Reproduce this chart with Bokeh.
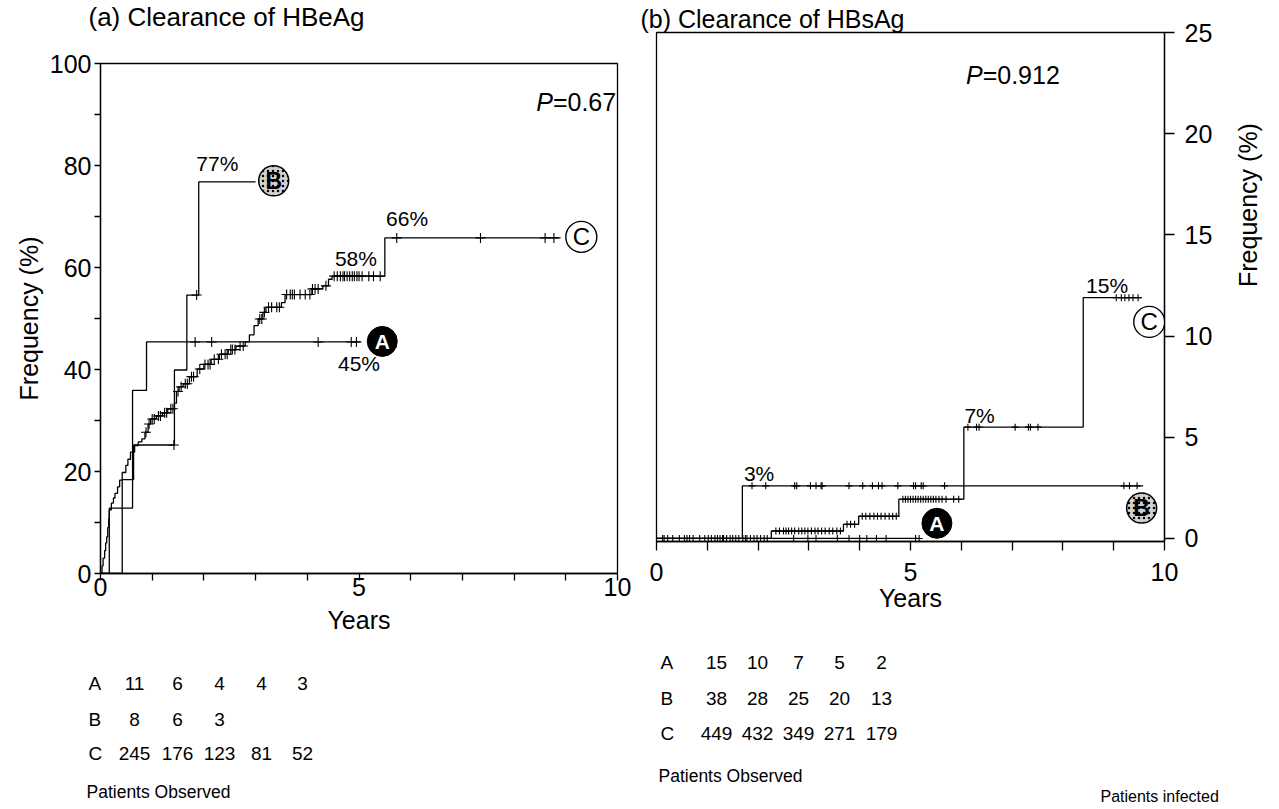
import numpy as np
from bokeh.plotting import figure
from bokeh.models import Range1d, FixedTicker
from bokeh.layouts import column, row
from bokeh.embed import file_html
from bokeh.resources import INLINE
from bokeh.core.properties import value

FONT = "Liberation Sans"

# ---------------- panel (a): Clearance of HBeAg ----------------
a_years_A = [0, 0.17, 0.62, 0.89]
a_freq_A = [0, 12.8, 35.9, 45.4]
a_end_A = 5.03
a_cens_A = [1.83, 2.15, 4.21, 4.85, 4.95]

a_years_B = [0, 0.42, 0.64, 1.43, 1.67, 1.90]
a_freq_B = [0, 18.4, 25.2, 39.9, 54.6, 76.8]
a_end_B = 3.0
a_cens_B = [1.42, 1.86]

a_years_C = [0, 0.03, 0.05, 0.08, 0.10, 0.12, 0.14, 0.16, 0.17, 0.21, 0.25, 0.28, 0.33,
             0.37, 0.42, 0.49, 0.53, 0.58, 0.66, 0.73, 0.80, 0.86, 0.92, 0.97, 1.08, 1.20,
             1.30, 1.43, 1.47, 1.52, 1.60, 1.72, 1.87, 2.00, 2.14, 2.30, 2.47, 2.62, 2.80,
             2.88, 2.97, 3.05, 3.14, 3.20, 3.50, 3.57, 4.09, 4.30, 4.41, 4.48, 5.50]
a_freq_C = [0, 1.5, 3.0, 4.5, 6.0, 7.2, 9.0, 10.8, 12.5, 13.8, 14.8, 15.7, 17.0,
            18.3, 19.8, 21.2, 22.4, 23.8, 25.1, 25.8, 26.4, 27.7, 29.3, 30.3, 30.9, 31.5,
            32.3, 33.4, 35.7, 36.6, 37.2, 38.6, 40.1, 41.0, 42.0, 43.0, 43.9, 44.6, 45.4,
            46.8, 48.6, 49.9, 51.2, 52.2, 53.1, 54.7, 55.8, 56.4, 57.7, 58.3, 65.8]
a_end_C = 8.9
a_cens_C = [0.88, 0.94, 1.0, 1.04, 1.12, 1.16, 1.24, 1.28, 1.36, 1.4, 1.5, 1.56, 1.64,
            1.68, 1.76, 1.8, 1.92, 2.02, 2.08, 2.12, 2.2, 2.28, 2.34, 2.41, 2.45, 2.52,
            2.55, 2.6, 2.7, 2.76, 3.08, 3.12, 3.17, 3.25, 3.31, 3.41, 3.46, 3.6, 3.67,
            3.71, 3.75, 3.86, 3.96, 4.05, 4.1, 4.15, 4.21, 4.36, 4.52, 4.58, 4.64, 4.69,
            4.72, 4.77, 4.82, 4.87, 4.91, 4.96, 5.0, 5.06, 5.19, 5.28, 5.41, 5.73, 7.35,
            8.6, 8.77]

a_mark_x = [5.45, 3.35, 9.3]
a_mark_y = [45.5, 77.0, 66.0]
a_lab_txt = ["77%", "66%", "58%", "45%"]
a_lab_x = [2.26, 5.93, 4.94, 5.0]
a_lab_y = [80.4, 69.6, 61.8, 41.1]
a_p_value = "=0.67"

# ---------------- panel (b): Clearance of HBsAg ----------------
b_years_A = [0]
b_freq_A = [0]
b_end_A = 5.17
b_cens_A = [0.15, 0.32, 0.6, 0.85, 1.3, 1.75, 2.7, 2.98, 3.14, 3.56, 3.79, 4.0, 4.14,
            4.33, 4.52, 5.1, 5.17]

b_years_B = [0, 1.69]
b_freq_B = [0, 2.6]
b_end_B = 9.58
b_cens_B = [1.88, 2.15, 2.72, 2.76, 3.03, 3.14, 3.24, 3.26, 3.79, 4.06, 4.25, 4.37, 4.44,
            4.75, 5.06, 5.1, 5.21, 5.25, 5.67, 9.2, 9.31, 9.46]

b_years_C = [0, 2.26, 3.68, 3.98, 4.77, 6.05, 8.40]
b_freq_C = [0, 0.37, 0.7, 1.1, 1.94, 5.5, 11.9]
b_end_C = 9.55
b_cens_C = [0.12, 0.22, 0.45, 0.55, 0.65, 0.72, 0.95, 1.02, 1.08, 1.15, 1.2, 1.25, 1.32,
            1.38, 1.45, 1.5, 1.56, 1.62, 1.7, 1.78, 1.85, 1.92, 1.98, 2.05, 2.12, 2.18,
            2.35, 2.42, 2.5, 2.55, 2.6, 2.66, 2.72, 2.8, 2.86, 2.92, 2.98, 3.05, 3.12,
            3.18, 3.25, 3.32, 3.4, 3.47, 3.55, 3.62, 3.75, 3.82, 3.9, 4.05, 4.12, 4.2,
            4.28, 4.35, 4.42, 4.5, 4.58, 4.65, 4.72, 4.85, 4.9, 4.95, 5.0, 5.05, 5.1,
            5.15, 5.2, 5.25, 5.3, 5.35, 5.4, 5.45, 5.5, 5.56, 5.62, 5.7, 5.85, 5.95,
            6.13, 6.3, 6.35, 7.06, 7.32, 7.36, 7.51, 9.05, 9.15, 9.22, 9.3, 9.38, 9.48]

b_mark_x = [5.52, 9.55, 9.7]
b_mark_y = [0.75, 1.5, 10.7]
b_lab_txt = ["3%", "7%", "15%"]
b_lab_x = [2.02, 6.36, 8.87]
b_lab_y = [3.2, 6.1, 12.5]
b_p_value = "=0.912"

# ---------------- patients observed tables ----------------
groups = ["A", "B", "C"]
a_table = [[11, 6, 4, 4, 3], [8, 6, 3], [245, 176, 123, 81, 52]]
b_table = [[15, 10, 7, 5, 2], [38, 28, 25, 20, 13], [449, 432, 349, 271, 179]]


def step_xy(ts, vs, end):
    return list(ts) + [end], list(vs) + [vs[-1]]


def level_at(ts, vs, cs):
    idx = np.searchsorted(np.asarray(ts), np.asarray(cs), side="right") - 1
    return [vs[i] for i in idx]


def style_axis(ax, tick_out, standoff, label_standoff, font_px=25):
    ax.axis_line_color = "black"
    ax.axis_line_width = 1.3
    ax.major_tick_line_color = "black"
    ax.major_tick_line_width = 1.3
    ax.major_tick_in = 0
    ax.major_tick_out = tick_out
    ax.minor_tick_line_color = None
    ax.major_label_text_font = FONT
    ax.major_label_text_font_size = f"{font_px}px"
    ax.major_label_text_color = "black"
    ax.major_label_standoff = standoff
    ax.axis_label_text_font = FONT
    ax.axis_label_text_font_size = f"{font_px}px"
    ax.axis_label_text_font_style = "normal"
    ax.axis_label_text_color = "black"
    ax.axis_label_standoff = label_standoff


def no_align(p):
    try:
        p.frame_align = False
    except Exception:
        pass


def base_fig(**kw):
    p = figure(output_backend="svg", toolbar_location=None, **kw)
    p.grid.visible = False
    p.outline_line_color = "black"
    p.outline_line_width = 1.3
    p.outline_line_alpha = 1.0
    p.background_fill_color = "white"
    p.border_fill_color = "white"
    no_align(p)
    return p


def plain_fig(w, h, xr, yr):
    p = figure(width=w, height=h, x_range=Range1d(*xr), y_range=Range1d(*yr),
               output_backend="svg", toolbar_location=None, x_axis_location=None,
               y_axis_location=None, min_border_left=0, min_border_right=0,
               min_border_top=0, min_border_bottom=0)
    p.grid.visible = False
    p.outline_line_color = None
    no_align(p)
    return p


def draw_panel(p, curves, cens_size, marks, labels, pval, font_lab):
    for ts, vs, end, cens in curves:
        xs, ys = step_xy(ts, vs, end)
        p.step(xs, ys, mode="after", line_color="black", line_width=1.3)
        p.scatter(cens, level_at(ts, vs, cens), marker="cross", size=cens_size,
                  line_color="black", line_width=1.1)
    mx, my = marks
    p.scatter([mx[0]], [my[0]], marker="circle", size=30, fill_color="black",
              line_color="black")
    p.text([mx[0]], [my[0]], text=["A"], text_color="white", text_font=value(FONT),
           text_font_size="21px", text_font_style="bold", text_align="center",
           text_baseline="middle")
    p.scatter([mx[1]], [my[1]], marker="circle", size=30, fill_color="#d0d0d0",
              line_color="black", line_width=1.5, hatch_pattern=".", hatch_scale=5,
              hatch_color="black", hatch_weight=1)
    p.text([mx[1]], [my[1]], text=["B"], text_color="black", text_font=value(FONT),
           text_font_size="23px", text_font_style="bold", text_align="center",
           text_baseline="middle")
    p.scatter([mx[2]], [my[2]], marker="circle", size=31, fill_color="white",
              line_color="black", line_width=1.4)
    p.text([mx[2]], [my[2]], text=["C"], text_color="black", text_font=value(FONT),
           text_font_size="24px", text_align="center", text_baseline="middle")
    lt, lx, ly = labels
    p.text(lx, ly, text=lt, text_color="black", text_font=value(FONT),
           text_font_size=font_lab, text_align="center", text_baseline="middle")
    px, py, ptxt = pval
    p.text([px], [py], text=["P"], text_color="black", text_font=value(FONT),
           text_font_size="25px", text_font_style="italic", text_align="right",
           text_baseline="middle")
    p.text([px], [py], text=[ptxt], text_color="black", text_font=value(FONT),
           text_font_size="25px", text_align="left", text_baseline="middle")


# ---------------- header with title (a) ----------------
head_a = plain_fig(636, 33, (0, 636), (33, 0))
head_a.text([88], [16], text=["(a) Clearance of HBeAg"], text_font=value(FONT),
            text_font_size="26px", text_color="black", text_align="left",
            text_baseline="middle")

# ---------------- figure (a) ----------------
p1 = base_fig(width=636, height=607, x_range=Range1d(0, 10), y_range=Range1d(0, 100),
              min_border_left=100, min_border_right=19, min_border_top=30,
              min_border_bottom=67)
p1.xaxis.ticker = FixedTicker(ticks=list(range(11)))
p1.xaxis.major_label_overrides = {i: "" for i in range(11) if i not in (0, 5, 10)}
p1.yaxis.ticker = FixedTicker(ticks=list(range(0, 101, 10)))
p1.yaxis.major_label_overrides = {i: "" for i in range(10, 100, 20)}
p1.xaxis.axis_label = "Years"
p1.yaxis.axis_label = "Frequency (%)"
style_axis(p1.xaxis[0], 7, -3, 7)
style_axis(p1.yaxis[0], 6, 3, 4)

draw_panel(p1,
           [(a_years_A, a_freq_A, a_end_A, a_cens_A),
            (a_years_B, a_freq_B, a_end_B, a_cens_B),
            (a_years_C, a_freq_C, a_end_C, a_cens_C)],
           10, (a_mark_x, a_mark_y), (a_lab_txt, a_lab_x, a_lab_y),
           (8.75, 92.5, a_p_value), "21px")

# ---------------- figure (b) ----------------
p2 = base_fig(width=643, height=640, x_range=Range1d(0, 10), y_range=Range1d(-0.15, 25),
              y_axis_location="right",
              min_border_left=20, min_border_right=108, min_border_top=32,
              min_border_bottom=99, title="(b) Clearance of HBsAg")
p2.title.text_font = FONT
p2.title.text_font_size = "25px"
p2.title.text_font_style = "normal"
p2.title.text_color = "black"
p2.title.align = "left"
p2.title.offset = -16
p2.title.standoff = 0
p2.xaxis.ticker = FixedTicker(ticks=list(range(11)))
p2.xaxis.major_label_overrides = {i: "" for i in range(11) if i not in (0, 5, 10)}
p2.yaxis.ticker = FixedTicker(ticks=list(range(0, 26, 5)))
p2.xaxis.axis_label = "Years"
p2.yaxis.axis_label = "Frequency (%)"
style_axis(p2.xaxis[0], 9, 12, 0)
style_axis(p2.yaxis[0], 10, 10, 33)
try:
    p2.yaxis[0].axis_label_orientation = float(np.pi / 2)
except Exception:
    pass

draw_panel(p2,
           [(b_years_A, b_freq_A, b_end_A, b_cens_A),
            (b_years_B, b_freq_B, b_end_B, b_cens_B),
            (b_years_C, b_freq_C, b_end_C, b_cens_C)],
           7, (b_mark_x, b_mark_y), (b_lab_txt, b_lab_x, b_lab_y),
           (6.42, 22.9, b_p_value), "21px")

# ---------------- tables (page-pixel coordinates) ----------------
p3 = plain_fig(1279, 166, (0, 1279), (806, 640))
tables = [
    (a_table, 88, [134, 177, 219, 261, 302], [683, 719, 753], 791),
    (b_table, 660, [716, 757, 798, 839, 881], [662, 698, 733], 775),
]
for tbl, lx, cols, rys, po_y in tables:
    p3.text([lx] * 3, rys, text=groups, text_font=value(FONT), text_font_size="19px",
            text_color="black", text_align="left", text_baseline="middle")
    for vals, ry in zip(tbl, rys):
        p3.text(cols[:len(vals)], [ry] * len(vals), text=[str(v) for v in vals],
                text_font=value(FONT), text_font_size="19px", text_color="black",
                text_align="center", text_baseline="middle")
    p3.text([lx - 2], [po_y], text=["Patients Observed"], text_font=value(FONT),
            text_font_size="17.5px", text_color="black", text_align="left",
            text_baseline="middle")
p3.text([1100], [804], text=["Patients infected"], text_font=value(FONT),
        text_font_size="16px", text_color="black", text_align="left",
        text_baseline="bottom")

layout = column(row(column(head_a, p1), p2), p3)
open("out.html", "w").write(file_html(layout, INLINE))
